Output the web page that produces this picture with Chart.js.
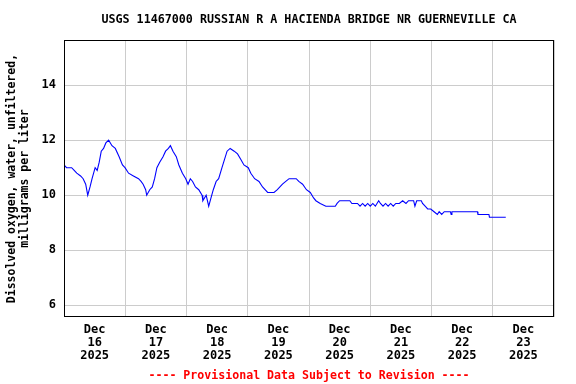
<!DOCTYPE html>
<html>
<head>
<meta charset="utf-8">
<script src="https://cdn.jsdelivr.net/npm/chart.js@4.4.1/dist/chart.umd.min.js"></script>
<style>
  body { margin: 0; background: #fff; }
  #wrap { width: 576px; height: 384px; }
</style>
</head>
<body>
<div id="wrap"><canvas id="myChart" width="576" height="384"></canvas></div>
<script>
// hours since Dec 16 2025 00:00, and dissolved oxygen (mg/L)
const hours = [0, 1, 3, 4, 5, 6.5, 7.5, 8.5, 9.3, 10.2, 11, 12.2, 13, 13.8, 14.6, 15.5, 16.4, 17.5, 18.8, 20.1,
    21.6, 22.9, 23.9, 25.3, 27.2, 29.2, 30.2, 31, 32, 32.4, 33.6, 34.6, 35.5, 36.4, 37.5, 38.8, 39.8, 40.9, 41.7, 42.7,
    44, 45, 46.4, 47.7, 48.6, 49.5, 50.4, 51.5, 52.8, 54.1, 54.4, 55.7, 56.7, 57.6, 58.5, 59.6, 60.6, 61.9, 62.9, 63.9,
    65.1, 66.7, 68, 69.3, 70.5, 72.2, 73.2, 74.7, 76.4, 77.8, 79.8, 82.3, 83.6, 85.6, 86.9, 88.2, 91, 92, 93.5, 95,
    96.5, 97.8, 98.7, 100.4, 102.6, 106.3, 107, 108, 112, 112.8, 115, 116, 117, 118, 119, 120, 121, 122, 123.3, 124,
    125, 126, 127, 128, 129, 130, 131.4, 132.7, 134, 135, 137, 137.5, 138.2, 140, 140.5, 141.5, 142.5, 143.7, 145, 146.3,
    147, 148, 149, 151.4, 151.7, 152, 162, 162.2, 166.5, 166.7, 173.1];
const oxygen = [11.1, 11.0, 11.0, 10.9, 10.8, 10.7, 10.6, 10.4, 10.0, 10.3, 10.6, 11.0, 10.9, 11.2, 11.6, 11.7, 11.9, 12.0, 11.8, 11.7,
    11.4, 11.1, 11.0, 10.8, 10.7, 10.6, 10.5, 10.4, 10.2, 10.0, 10.2, 10.3, 10.6, 11.0, 11.2, 11.4, 11.6, 11.7, 11.8, 11.6,
    11.4, 11.1, 10.8, 10.6, 10.4, 10.6, 10.5, 10.3, 10.2, 10.0, 9.8, 10.0, 9.6, 9.9, 10.2, 10.5, 10.6, 11.0, 11.3, 11.6,
    11.7, 11.6, 11.5, 11.3, 11.1, 11.0, 10.8, 10.6, 10.5, 10.3, 10.1, 10.1, 10.2, 10.4, 10.5, 10.6, 10.6, 10.5, 10.4, 10.2,
    10.1, 9.9, 9.8, 9.7, 9.6, 9.6, 9.7, 9.8, 9.8, 9.7, 9.7, 9.6, 9.7, 9.6, 9.7, 9.6, 9.7, 9.6, 9.8, 9.7,
    9.6, 9.7, 9.6, 9.7, 9.6, 9.7, 9.7, 9.8, 9.7, 9.8, 9.8, 9.6, 9.8, 9.8, 9.7, 9.6, 9.5, 9.5, 9.4, 9.3,
    9.4, 9.3, 9.4, 9.4, 9.3, 9.4, 9.4, 9.3, 9.3, 9.2, 9.2];

// tick positions (hours) and labels
const xGridHours = [0, 24, 48, 72, 96, 120, 144, 168, 192];
const xLabelHours = [12, 36, 60, 84, 108, 132, 156, 180];
const xLabelDays = ['16', '17', '18', '19', '20', '21', '22', '23'];
const yTicks = [6, 8, 10, 12, 14];

const title = 'USGS 11467000 RUSSIAN R A HACIENDA BRIDGE NR GUERNEVILLE CA';
const yTitle = ['Dissolved oxygen, water, unfiltered,', 'milligrams per liter'];
const footer = '---- Provisional Data Subject to Revision ----';

Chart.defaults.font.family = "'DejaVu Sans Mono', monospace";
Chart.defaults.font.weight = 'bold';
Chart.defaults.font.size = 12;
Chart.defaults.color = '#000';

// box around the plot area
const frame = {
    id: 'frame',
    afterDatasetsDraw(chart) {
        const a = chart.chartArea;
        const c = chart.ctx;
        c.save();
        c.strokeStyle = '#000';
        c.lineWidth = 1;
        c.strokeRect(Math.round(a.left) + 0.5, Math.round(a.top) + 0.5,
            Math.round(a.right - a.left) - 1, Math.round(a.bottom - a.top) - 1);
        c.restore();
    }
};

const ctx = document.getElementById('myChart').getContext('2d');

const myChart = new Chart(ctx, {
    type: 'line',
    data: {
        datasets: [{
            data: hours.map((h, i) => ({ x: h, y: oxygen[i] })),
            borderColor: '#0000ff',
            borderWidth: 1.1,
            pointRadius: 0,
            tension: 0,
            fill: false
        }]
    },
    options: {
        responsive: false,
        animation: false,
        layout: {
            padding: { top: 0, bottom: 0, left: 0, right: 22 }
        },
        plugins: {
            legend: { display: false },
            tooltip: { enabled: false },
            title: {
                display: true,
                text: title,
                fullSize: false,
                font: { size: 11.7, weight: 'bold', lineHeight: 1.2 },
                padding: { top: 13, bottom: 13 }
            },
            subtitle: {
                display: true,
                position: 'bottom',
                text: footer,
                color: '#ff0000',
                fullSize: false,
                font: { size: 11.6, weight: 'bold', lineHeight: 1.2 },
                padding: { top: 3, bottom: 1 }
            }
        },
        scales: {
            x: {
                type: 'linear',
                min: 0,
                max: 192,
                afterBuildTicks: s => {
                    s.ticks = xGridHours.concat(xLabelHours).sort((a, b) => a - b).map(v => ({ value: v }));
                },
                afterFit: s => { s.height = 49; },
                border: { display: false },
                grid: {
                    drawTicks: false,
                    color: c => (c.tick && c.tick.value % 24 === 0) ? '#cccccc' : 'rgba(0,0,0,0)'
                },
                ticks: {
                    autoSkip: false,
                    maxRotation: 0,
                    padding: 6,
                    font: { size: 12, weight: 'bold', lineHeight: 1.08 },
                    callback: function (value) {
                        const i = xLabelHours.indexOf(value);
                        return i < 0 ? '' : ['Dec', xLabelDays[i], '2025'];
                    }
                }
            },
            y: {
                min: 5.57,
                max: 15.64,
                afterBuildTicks: s => { s.ticks = yTicks.map(v => ({ value: v })); },
                afterFit: s => { s.width = 64; },
                border: { display: false },
                grid: {
                    drawTicks: false,
                    color: '#cccccc'
                },
                ticks: {
                    padding: 8,
                    callback: v => String(v)
                },
                title: {
                    display: true,
                    text: yTitle,
                    font: { size: 11.5, weight: 'bold', lineHeight: 1.15 },
                    padding: { top: 5, bottom: 0 }
                }
            }
        }
    },
    plugins: [frame]
});
</script>
</body>
</html>
